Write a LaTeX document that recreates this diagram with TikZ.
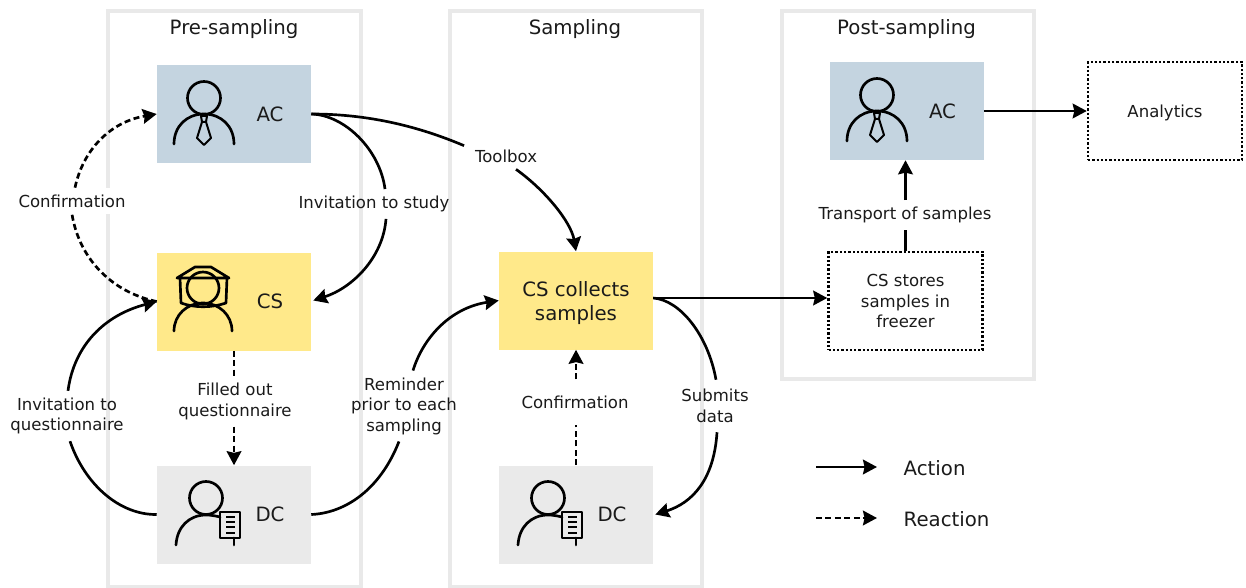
\documentclass[tikz,border=0pt]{standalone}
\usepackage{fontspec}
\setmainfont{DejaVu Sans}
\usetikzlibrary{arrows.meta, calc}
\definecolor{panelgray}{HTML}{E9E9E9}
\definecolor{acblue}{HTML}{C4D4E0}
\definecolor{csyellow}{HTML}{FFE98A}
\definecolor{dcgray}{HTML}{EAEAEA}
\definecolor{inktext}{HTML}{1A1A1A}
\tikzset{
  smalltext/.style={font=\fontsize{12.4}{15.4}\selectfont, text=inktext, align=center},
  bigtext/.style={font=\fontsize{14.8}{18}\selectfont, text=inktext, align=center},
  panel/.style={draw=panelgray, line width=2.4pt},
  box/.style={minimum width=115.5pt, minimum height=73.5pt, inner sep=0pt, bigtext},
  dotbox/.style={box, smalltext, draw, line width=1.9pt, dash pattern=on 1.7pt off 1.5pt},
  actionline/.style={line width=2pt},
  reactionline/.style={line width=2pt, dash pattern=on 4.5pt off 2.6pt},
  action/.style={actionline, -{Stealth[length=10.5pt,width=11pt,inset=1.2pt]}},
  reaction/.style={reactionline, -{Stealth[length=10.5pt,width=11pt,inset=1.2pt]}},
  edgelabel/.style={smalltext, inner xsep=1.5pt, inner ysep=5pt},
  icon/.style={line width=2pt, line cap=round, line join=round},
  pics/manager/.style={code={
    \draw[icon] (0,0) circle (16.5);
    \draw[icon] (-30,46) .. controls (-30,28) and (-17,16) .. (0,16) .. controls (17,16) and (30,28) .. (30,46);
    \draw[icon,line width=1.5pt] (-3,18) -- (3,18) -- (2,24) -- (-2,24) -- cycle;
    \draw[icon,line width=1.5pt] (-2,24) -- (-7,40) -- (0,47) -- (7,40) -- (2,24);
  }},
  pics/beekeeper/.style={code={
    \draw[icon] (0,0) circle (16);
    \draw[icon] (-29,43) .. controls (-29,27) and (-16,15) .. (0,15) .. controls (16,15) and (29,27) .. (29,43);
    \draw[icon] (-26,-10) -- (-8,-21) -- (8,-21) -- (26,-10) -- cycle;
    \draw[icon] (-23,-10) -- (-22,15) .. controls (-8,20) and (8,20) .. (23,15) -- (24,-10);
  }},
  pics/collector/.style={code={
    \draw[icon] (0,0) circle (16.5);
    \draw[icon] (-30,47) .. controls (-29,29) and (-17,17) .. (0,17) .. controls (5,17) and (10,18) .. (14,19);
    \draw[icon] (14,14) rectangle (34,40);
    \draw[icon,line width=1.7pt,line cap=butt] (20,19) -- (29,19) (20,24) -- (29,24) (20,29) -- (29,29) (20,35) -- (29,35);
    \draw[icon] (28,40) -- (28,47);
  }},
}
\begin{document}
\begin{tikzpicture}[x=0.75pt,y=-0.75pt]

  % Page and the three panels
  \useasboundingbox (0,0) rectangle (1246,588);
  \draw[panel] (108,11) rectangle (361,587);
  \draw[panel] (450,11) rectangle (702,587);
  \draw[panel] (782,11) rectangle (1034,379);

  % Panel titles
  \node[bigtext] (titlepre) at (234,29.5) {Pre-sampling};
  \node[bigtext] (titlesam) at (575,29.5) {Sampling};
  \node[bigtext] (titlepost) at (906.5,29.5) {Post-sampling};

  % Boxes of the three panels
  \node[box,fill=acblue] (acpre) at (234,114) {\hspace*{54pt}AC};
  \node[box,fill=csyellow] (cspre) at (234,301.5) {\hspace*{54pt}CS};
  \node[box,fill=dcgray] (dcpre) at (234,514.5) {\hspace*{54pt}DC};
  \node[box,fill=csyellow] (collect) at (576,300.5) {\rule{0pt}{15pt}CS collects\\samples};
  \node[box,fill=dcgray] (dcsam) at (576,514.5) {\hspace*{54pt}DC};
  \node[box,fill=acblue] (acpost) at (906.5,111) {\hspace*{54pt}AC};
  \node[dotbox] (store) at (905.5,301) {CS stores\\samples in\\freezer};
  \node[dotbox] (analytics) at (1165,111) {\rule{0pt}{12.3pt}Analytics};
  \coordinate (collectout) at ($(collect.east)+(0,-2.5)$);

  % Icons
  \pic at (204,98) {manager};
  \pic at (203,288) {beekeeper};
  \pic at (206,498) {collector};
  \pic at (548,498) {collector};
  \pic at (877,95) {manager};

  % Arrow labels
  \node[edgelabel,fill=white] (confirmpre) at (72,201) {Confirmation};
  \node[edgelabel] (invitestudy) at (374,204) {Invitation to study};
  \node[edgelabel,inner xsep=8pt] (toolbox) at (506,156) {Toolbox};
  \node[edgelabel] (invitequest) at (67,416) {Invitation to\\questionnaire};
  \node[edgelabel] (filled) at (235,401.5) {Filled out\\questionnaire};
  \node[edgelabel] (reminder) at (404,406) {Reminder\\prior to each\\sampling};
  \node[edgelabel,inner ysep=12pt] (confirmsam) at (575,402) {Confirmation};
  \node[edgelabel,inner ysep=7pt] (submits) at (715,406) {Submits\\data};
  \node[edgelabel] (transport) at (905,215) {Transport of samples};

  % Action arrows
  \draw[actionline] (acpre.east) .. controls (345,115) and (380,150) .. ($(invitestudy.north)+(11,0)$);
  \draw[action] ($(invitestudy.south)+(12,0)$) .. controls (383,258) and (352,288) .. ($(cspre.east)+(2,-1)$);
  \draw[actionline] (acpre.east) .. controls (370,114) and (420,127) .. ($(toolbox.north west)+(0,3)$);
  \draw[action] ($(toolbox.south)+(10,0)$) .. controls (545,190) and (571,222) .. (collect.north);
  \draw[actionline] (dcpre.west) .. controls (120,515) and (85,485) .. ($(invitequest.south)+(3,0)$);
  \draw[action] ($(invitequest.north)+(1,0)$) .. controls (74,345) and (105,315) .. (cspre.west);
  \draw[actionline] (dcpre.east) .. controls (345,513) and (380,490) .. ($(reminder.south)+(-5,0)$);
  \draw[action] ($(reminder.north)+(9,0)$) .. controls (423,338) and (450,308) .. (collect.west);
  \draw[actionline] (collectout) .. controls (680,300) and (708,335) .. ($(submits.north)+(1,0)$);
  \draw[action] ($(submits.south)+(2,0)$) .. controls (714,480) and (692,503) .. ($(dcsam.east)+(2,0)$);
  \draw[action] (collectout) -- (collectout -| store.west);
  \draw[actionline] (store.north) -- (store.north |- transport.south);
  \draw[action] (store.north |- transport.north) -- (store.north |- acpost.south);
  \draw[action] (acpost.east) -- (analytics.west);

  % Reaction arrows
  \draw[reactionline] (cspre.west) .. controls (115,293) and (80,262) .. (confirmpre.south);
  \draw[reaction] ($(confirmpre.north)+(3,0)$) .. controls (83,150) and (110,122) .. (acpre.west);
  \draw[reactionline] (cspre.south) -- (cspre.south |- filled.north);
  \draw[reaction] (filled.south -| dcpre.north) -- (dcpre.north);
  \draw[reactionline] (dcsam.north) -- (confirmsam.south -| dcsam.north);
  \draw[reaction] (confirmsam.north -| collect.south) -- (collect.south);

  % Legend
  \coordinate (actfrom) at (816,467);
  \coordinate (actto) at (877,467);
  \coordinate (reafrom) at (816,518);
  \coordinate (reato) at (877,518);
  \draw[action] (actfrom) -- (actto);
  \draw[reaction] (reafrom) -- (reato);
  \node[bigtext,anchor=west] (actname) at (899,468) {Action};
  \node[bigtext,anchor=west] (reaname) at (899,519) {Reaction};

\end{tikzpicture}
\end{document}
